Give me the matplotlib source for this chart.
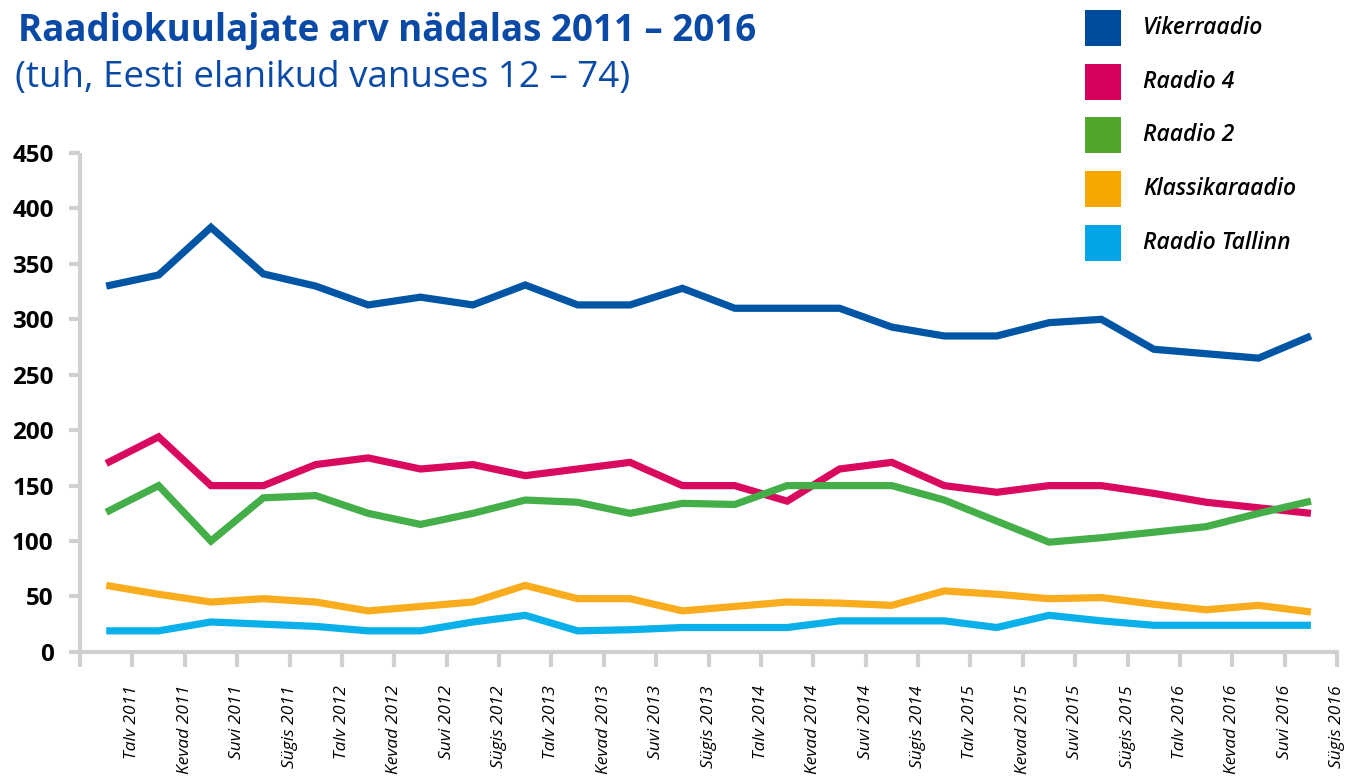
import numpy as np
import matplotlib
matplotlib.use("Agg")
import matplotlib.pyplot as plt
from matplotlib.patches import Rectangle

plt.rcParams['font.family'] = ['Open Sans', 'DejaVu Sans']

# categories (quarters / seasons)
seasons = ['Talv', 'Kevad', 'Suvi', 'Sügis']
years = [2011, 2012, 2013, 2014, 2015, 2016]
categories = [f'{s} {y}' for y in years for s in seasons]

series_names = ['Vikerraadio', 'Raadio 4', 'Raadio 2', 'Klassikaraadio', 'Raadio Tallinn']
vikerraadio = [330, 340, 383, 341, 330, 313, 320, 313, 331, 313, 313, 328,
               310, 310, 310, 293, 285, 285, 297, 300, 273, 269, 265, 285]
raadio4 = [170, 194, 150, 150, 169, 175, 165, 169, 159, 165, 171, 150,
           150, 136, 165, 171, 150, 144, 150, 150, 143, 135, 130, 125]
raadio2 = [126, 150, 100, 139, 141, 125, 115, 125, 137, 135, 125, 134,
           133, 150, 150, 150, 137, 118, 99, 103, 108, 113, 125, 136]
klassika = [60, 52, 45, 48, 45, 37, 41, 45, 60, 48, 48, 37,
            41, 45, 44, 42, 55, 52, 48, 49, 43, 38, 42, 36]
tallinn = [19, 19, 27, 25, 23, 19, 19, 27, 33, 19, 20, 22,
           22, 22, 28, 28, 28, 22, 33, 28, 24, 24, 24, 24]

line_colors = ['#0055a5', '#d8095f', '#44ae48', '#f9ac1e', '#09b0ea']
legend_colors = ['#004c9c', '#d6005c', '#52a52d', '#f7a800', '#00a6e6']
all_series = [vikerraadio, raadio4, raadio2, klassika, tallinn]

fig = plt.figure(figsize=(13.52, 7.77), dpi=100)
ax = fig.add_axes([0.0592, 0.161, 0.9298, 0.642])

x = np.arange(len(categories))
for vals, col in zip(all_series, line_colors):
    ax.plot(x, vals, color=col, lw=5.2, solid_joinstyle='miter', solid_capstyle='butt')

ax.set_xlim(-0.5, len(categories) - 0.5)
ax.set_ylim(0, 450)
ax.set_yticks(np.arange(0, 451, 50))
ax.set_xticks(np.arange(-0.5, len(categories)))
ax.set_xticklabels([''] + categories, rotation=90, ha='center', va='top',
                   fontsize=12.5, style='italic')
for lbl in ax.get_yticklabels():
    lbl.set_fontweight('bold')
ax.tick_params(axis='y', length=8, width=3, color='#d0d0d0', labelsize=17.5, pad=11)
ax.tick_params(axis='x', length=11, width=3, color='#d0d0d0', pad=13)

for s in ['top', 'right']:
    ax.spines[s].set_visible(False)
for s in ['left', 'bottom']:
    ax.spines[s].set_color('#d0d0d0')
    ax.spines[s].set_linewidth(3)
ax.spines['left'].set_capstyle('butt')

# titles
fig.text(0.013, 0.984, 'Raadiokuulajate arv nädalas 2011 – 2016', fontsize=26.5,
         fontweight='bold', color='#0a4aa6', va='top', ha='left')
fig.text(0.011, 0.923, '(tuh, Eesti elanikud vanuses 12 – 74)', fontsize=26.5,
         color='#0a4aa6', va='top', ha='left')

# legend on the right
W, H = 1352, 777
for i, (name, col) in enumerate(zip(series_names, legend_colors)):
    cy = 28 + i * 53.7
    fig.add_artist(Rectangle((1085 / W, 1 - (cy + 18) / H), 36 / W, 36 / H,
                             transform=fig.transFigure, color=col, lw=0))
    fig.text(1143 / W, 1 - cy / H, name, fontsize=16.5, style='italic',
             fontweight='semibold', va='center', ha='left', color='black')

fig.savefig('out.png', dpi=100)
